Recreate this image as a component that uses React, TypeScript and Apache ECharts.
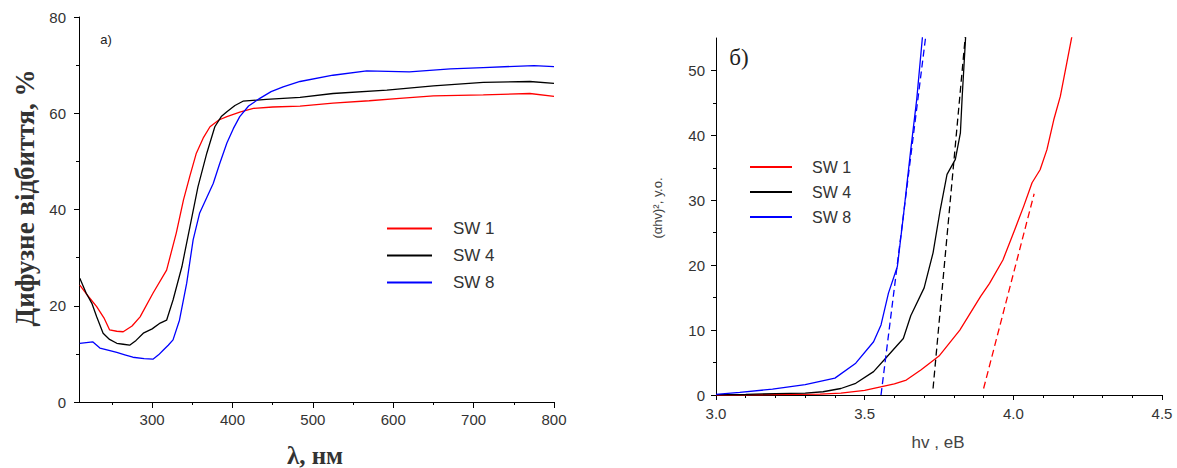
import React, { useEffect, useRef } from "react";
import * as echarts from "echarts";

// ---- Panel а): diffuse reflectance vs wavelength ----
const lambdaSW1 = [210, 218, 231, 240, 247, 256, 264, 275, 285, 301, 318, 330, 339, 347, 355, 364, 372, 383, 393, 410, 426, 450, 484, 525, 570, 608, 650, 712, 770, 800];
const reflSW1 = [24.3, 22.5, 19.8, 17.5, 15.0, 14.7, 14.6, 15.8, 17.7, 22.6, 27.4, 35.1, 42.0, 47.0, 51.7, 55.0, 57.2, 58.6, 59.3, 60.3, 61.0, 61.3, 61.5, 62.1, 62.6, 63.1, 63.6, 63.8, 64.1, 63.5];

const lambdaSW4 = [210, 218, 225, 231, 239, 247, 256, 264, 272, 280, 289, 300, 310, 318, 326, 337, 347, 357, 368, 378, 386, 393, 403, 413, 442, 484, 525, 592, 650, 712, 770, 800];
const reflSW4 = [25.7, 22.6, 20.5, 17.7, 14.3, 13.0, 12.2, 12.0, 11.8, 12.8, 14.3, 15.2, 16.4, 17.0, 21.2, 28.1, 36.4, 44.7, 51.7, 57.2, 59.3, 60.3, 61.6, 62.5, 62.9, 63.3, 64.1, 64.8, 65.7, 66.4, 66.6, 66.2];

const lambdaSW8 = [210, 226, 235, 245, 256, 266, 276, 290, 301, 308, 314, 320, 326, 334, 343, 351, 359, 368, 376, 384, 393, 401, 409, 420, 434, 448, 463, 484, 525, 567, 620, 671, 712, 775, 800];
const reflSW8 = [12.2, 12.5, 11.2, 10.8, 10.3, 9.8, 9.3, 9.0, 8.9, 9.8, 10.8, 11.8, 12.9, 17.0, 24.7, 33.7, 39.2, 42.5, 45.4, 49.5, 53.8, 56.8, 59.3, 61.5, 63.1, 64.5, 65.5, 66.6, 67.9, 68.8, 68.6, 69.2, 69.5, 69.9, 69.7];

const lambdaMajorTicks = [300, 400, 500, 600, 700, 800];
const lambdaMinorTicks = [250, 350, 450, 550, 650, 750];

// ---- Panel б): (αhv)^2 vs photon energy ----
const energySW1 = [3.0, 3.2, 3.28, 3.35, 3.42, 3.5, 3.55, 3.6, 3.64, 3.69, 3.75, 3.82, 3.89, 3.92, 3.965, 4.005, 4.035, 4.063, 4.09, 4.113, 4.136, 4.158, 4.18, 4.198];
const absSW1 = [0, 0.05, 0.1, 0.15, 0.3, 0.7, 1.2, 1.7, 2.3, 3.9, 6.0, 10.0, 15.2, 17.2, 20.8, 25.5, 29.1, 32.7, 34.7, 37.8, 42.4, 46.0, 51.2, 55.5];

const energySW4 = [3.0, 3.1, 3.2, 3.3, 3.36, 3.42, 3.47, 3.53, 3.575, 3.63, 3.655, 3.7, 3.73, 3.754, 3.777, 3.805, 3.822, 3.828, 3.84];
const absSW4 = [0.05, 0.1, 0.2, 0.3, 0.5, 1.0, 1.8, 3.6, 5.9, 8.7, 12.2, 16.5, 21.9, 28.5, 34.0, 36.3, 40.4, 46.0, 55.5];

const energySW8 = [3.0, 3.08, 3.19, 3.3, 3.4, 3.47, 3.53, 3.555, 3.58, 3.61, 3.63, 3.655, 3.675, 3.695];
const absSW8 = [0.1, 0.4, 0.9, 1.6, 2.6, 4.9, 8.2, 10.8, 15.7, 19.8, 27.5, 37.8, 45.5, 55.5];

// tangent (extrapolation) lines
const fitEnergySW1 = [3.9, 4.07];
const fitAbsSW1 = [1, 31];
const fitEnergySW4 = [3.73, 3.839];
const fitAbsSW4 = [1, 55.5];
const fitEnergySW8 = [3.555, 3.706];
const fitAbsSW8 = [0, 55.5];

const absMajorTicks = [0, 10, 20, 30, 40, 50];
const absMinorTicks = [5, 15, 25, 35, 45];

const seriesNames = ["SW 1", "SW 4", "SW 8"];
const seriesColors = ["#ff0000", "#000000", "#0000ff"];

const zip = (xs: number[], ys: number[]) => xs.map((x, i) => [x, ys[i]]);

const sans = "'Liberation Sans', Arial, sans-serif";
const serif = "'Liberation Serif', 'Times New Roman', serif";
const tickColor = "#333";

const axisLine = { show: true, onZero: false, lineStyle: { color: "#000", width: 1 } };

export default function App() {
  const ref = useRef<HTMLDivElement>(null);

  useEffect(() => {
    const chart = echarts.init(ref.current!, null, { renderer: "svg" });

    const leftData = [zip(lambdaSW1, reflSW1), zip(lambdaSW4, reflSW4), zip(lambdaSW8, reflSW8)];
    const rightData = [zip(energySW1, absSW1), zip(energySW4, absSW4), zip(energySW8, absSW8)];
    const fitData = [zip(fitEnergySW1, fitAbsSW1), zip(fitEnergySW4, fitAbsSW4), zip(fitEnergySW8, fitAbsSW8)];

    const series: any[] = [];
    seriesNames.forEach((name, i) => {
      series.push({
        name,
        type: "line",
        xAxisIndex: 0,
        yAxisIndex: 0,
        data: leftData[i],
        showSymbol: false,
        symbol: "none",
        lineStyle: { color: seriesColors[i], width: 1.3 },
        itemStyle: { color: seriesColors[i] },
      });
    });
    seriesNames.forEach((name, i) => {
      series.push({
        name,
        type: "line",
        xAxisIndex: 2,
        yAxisIndex: 1,
        data: rightData[i],
        showSymbol: false,
        symbol: "none",
        clip: true,
        lineStyle: { color: seriesColors[i], width: 1.3 },
        itemStyle: { color: seriesColors[i] },
      });
    });
    seriesNames.forEach((name, i) => {
      series.push({
        name: name + " fit",
        type: "line",
        xAxisIndex: 2,
        yAxisIndex: 1,
        data: fitData[i],
        showSymbol: false,
        symbol: "none",
        clip: true,
        lineStyle: { color: seriesColors[i], width: 1.3, type: [7, 4] },
        itemStyle: { color: seriesColors[i] },
      });
    });

    const legendCommon = {
      orient: "vertical",
      icon: "rect",
      itemHeight: 2,
      selectedMode: false,
      padding: 0,
      data: seriesNames,
    };

    chart.setOption({
      animation: false,
      backgroundColor: "#ffffff",
      grid: [
        { left: 79, top: 17, width: 475, height: 385 },
        { left: 716, top: 38, width: 446, height: 357 },
      ],
      legend: [
        {
          ...legendCommon,
          left: 387,
          top: 220,
          itemWidth: 45,
          itemGap: 10,
          textStyle: { fontFamily: sans, fontSize: 17, color: "#333", lineHeight: 14, padding: [0, 0, 0, 16] },
        },
        {
          ...legendCommon,
          left: 750,
          top: 159,
          itemWidth: 42,
          itemGap: 9,
          textStyle: { fontFamily: sans, fontSize: 16, color: "#333", lineHeight: 13, padding: [0, 0, 0, 15] },
        },
      ],
      xAxis: [
        {
          type: "value",
          gridIndex: 0,
          position: "bottom",
          min: 209,
          max: 800,
          axisLine,
          splitLine: { show: false },
          axisTick: { show: true, length: 6, customValues: lambdaMajorTicks, lineStyle: { color: "#000" } },
          axisLabel: { customValues: lambdaMajorTicks, fontFamily: sans, fontSize: 15, color: tickColor, margin: 10 },
        },
        {
          type: "value",
          gridIndex: 0,
          position: "bottom",
          min: 209,
          max: 800,
          axisLine: { show: false },
          splitLine: { show: false },
          axisTick: { show: true, length: 3, customValues: lambdaMinorTicks, lineStyle: { color: "#000" } },
          axisLabel: { show: false },
        },
        {
          type: "value",
          gridIndex: 1,
          position: "bottom",
          min: 3,
          max: 4.5,
          interval: 0.5,
          axisLine,
          splitLine: { show: false },
          axisTick: { show: true, length: 5, lineStyle: { color: "#000" } },
          minorTick: { show: true, splitNumber: 5, length: 3, lineStyle: { color: "#000" } },
          axisLabel: {
            fontFamily: sans,
            fontSize: 15,
            color: tickColor,
            margin: 11,
            formatter: (v: number) => v.toFixed(1),
          },
        },
      ],
      yAxis: [
        {
          type: "value",
          gridIndex: 0,
          position: "left",
          min: 0,
          max: 80,
          interval: 20,
          axisLine,
          splitLine: { show: false },
          axisTick: { show: true, length: 5, lineStyle: { color: "#000" } },
          minorTick: { show: true, splitNumber: 2, length: 3, lineStyle: { color: "#000" } },
          axisLabel: { fontFamily: sans, fontSize: 15, color: tickColor, margin: 13 },
        },
        {
          type: "value",
          gridIndex: 1,
          position: "left",
          min: 0,
          max: 55,
          axisLine,
          splitLine: { show: false },
          axisTick: { show: true, length: 5, customValues: absMajorTicks, lineStyle: { color: "#000" } },
          axisLabel: { customValues: absMajorTicks, fontFamily: sans, fontSize: 15, color: tickColor, margin: 11 },
        },
        {
          type: "value",
          gridIndex: 1,
          position: "left",
          min: 0,
          max: 55,
          axisLine: { show: false },
          splitLine: { show: false },
          axisTick: { show: true, length: 3, customValues: absMinorTicks, lineStyle: { color: "#000" } },
          axisLabel: { show: false },
        },
      ],
      graphic: [
        {
          type: "text",
          x: 25,
          y: 198,
          rotation: Math.PI / 2,
          style: {
            text: "Дифузне відбиття, %",
            font: `bold 27px ${serif}`,
            fill: "#333",
            textAlign: "center",
            textVerticalAlign: "middle",
          },
        },
        {
          type: "text",
          x: 315,
          y: 455,
          style: {
            text: "λ, нм",
            font: `bold 25px ${serif}`,
            fill: "#333",
            textAlign: "center",
            textVerticalAlign: "middle",
          },
        },
        {
          type: "text",
          x: 106,
          y: 39,
          style: {
            text: "а)",
            font: `13px ${sans}`,
            fill: "#222",
            textAlign: "center",
            textVerticalAlign: "middle",
          },
        },
        {
          type: "text",
          x: 739,
          y: 57,
          style: {
            text: "б)",
            font: `23px ${serif}`,
            fill: "#222",
            textAlign: "center",
            textVerticalAlign: "middle",
          },
        },
        {
          type: "text",
          x: 657,
          y: 208,
          rotation: Math.PI / 2,
          style: {
            text: "(αhv)², у.о.",
            font: `13px ${sans}`,
            fill: "#444",
            textAlign: "center",
            textVerticalAlign: "middle",
          },
        },
        {
          type: "text",
          x: 938,
          y: 442,
          style: {
            text: "hv , еВ",
            font: `17px ${sans}`,
            fill: "#444",
            textAlign: "center",
            textVerticalAlign: "middle",
          },
        },
      ],
      series,
    });

    return () => chart.dispose();
  }, []);

  return (
    <div
      ref={ref}
      style={{ position: "fixed", left: 0, top: 0, width: 1177, height: 468, background: "#ffffff" }}
    />
  );
}
